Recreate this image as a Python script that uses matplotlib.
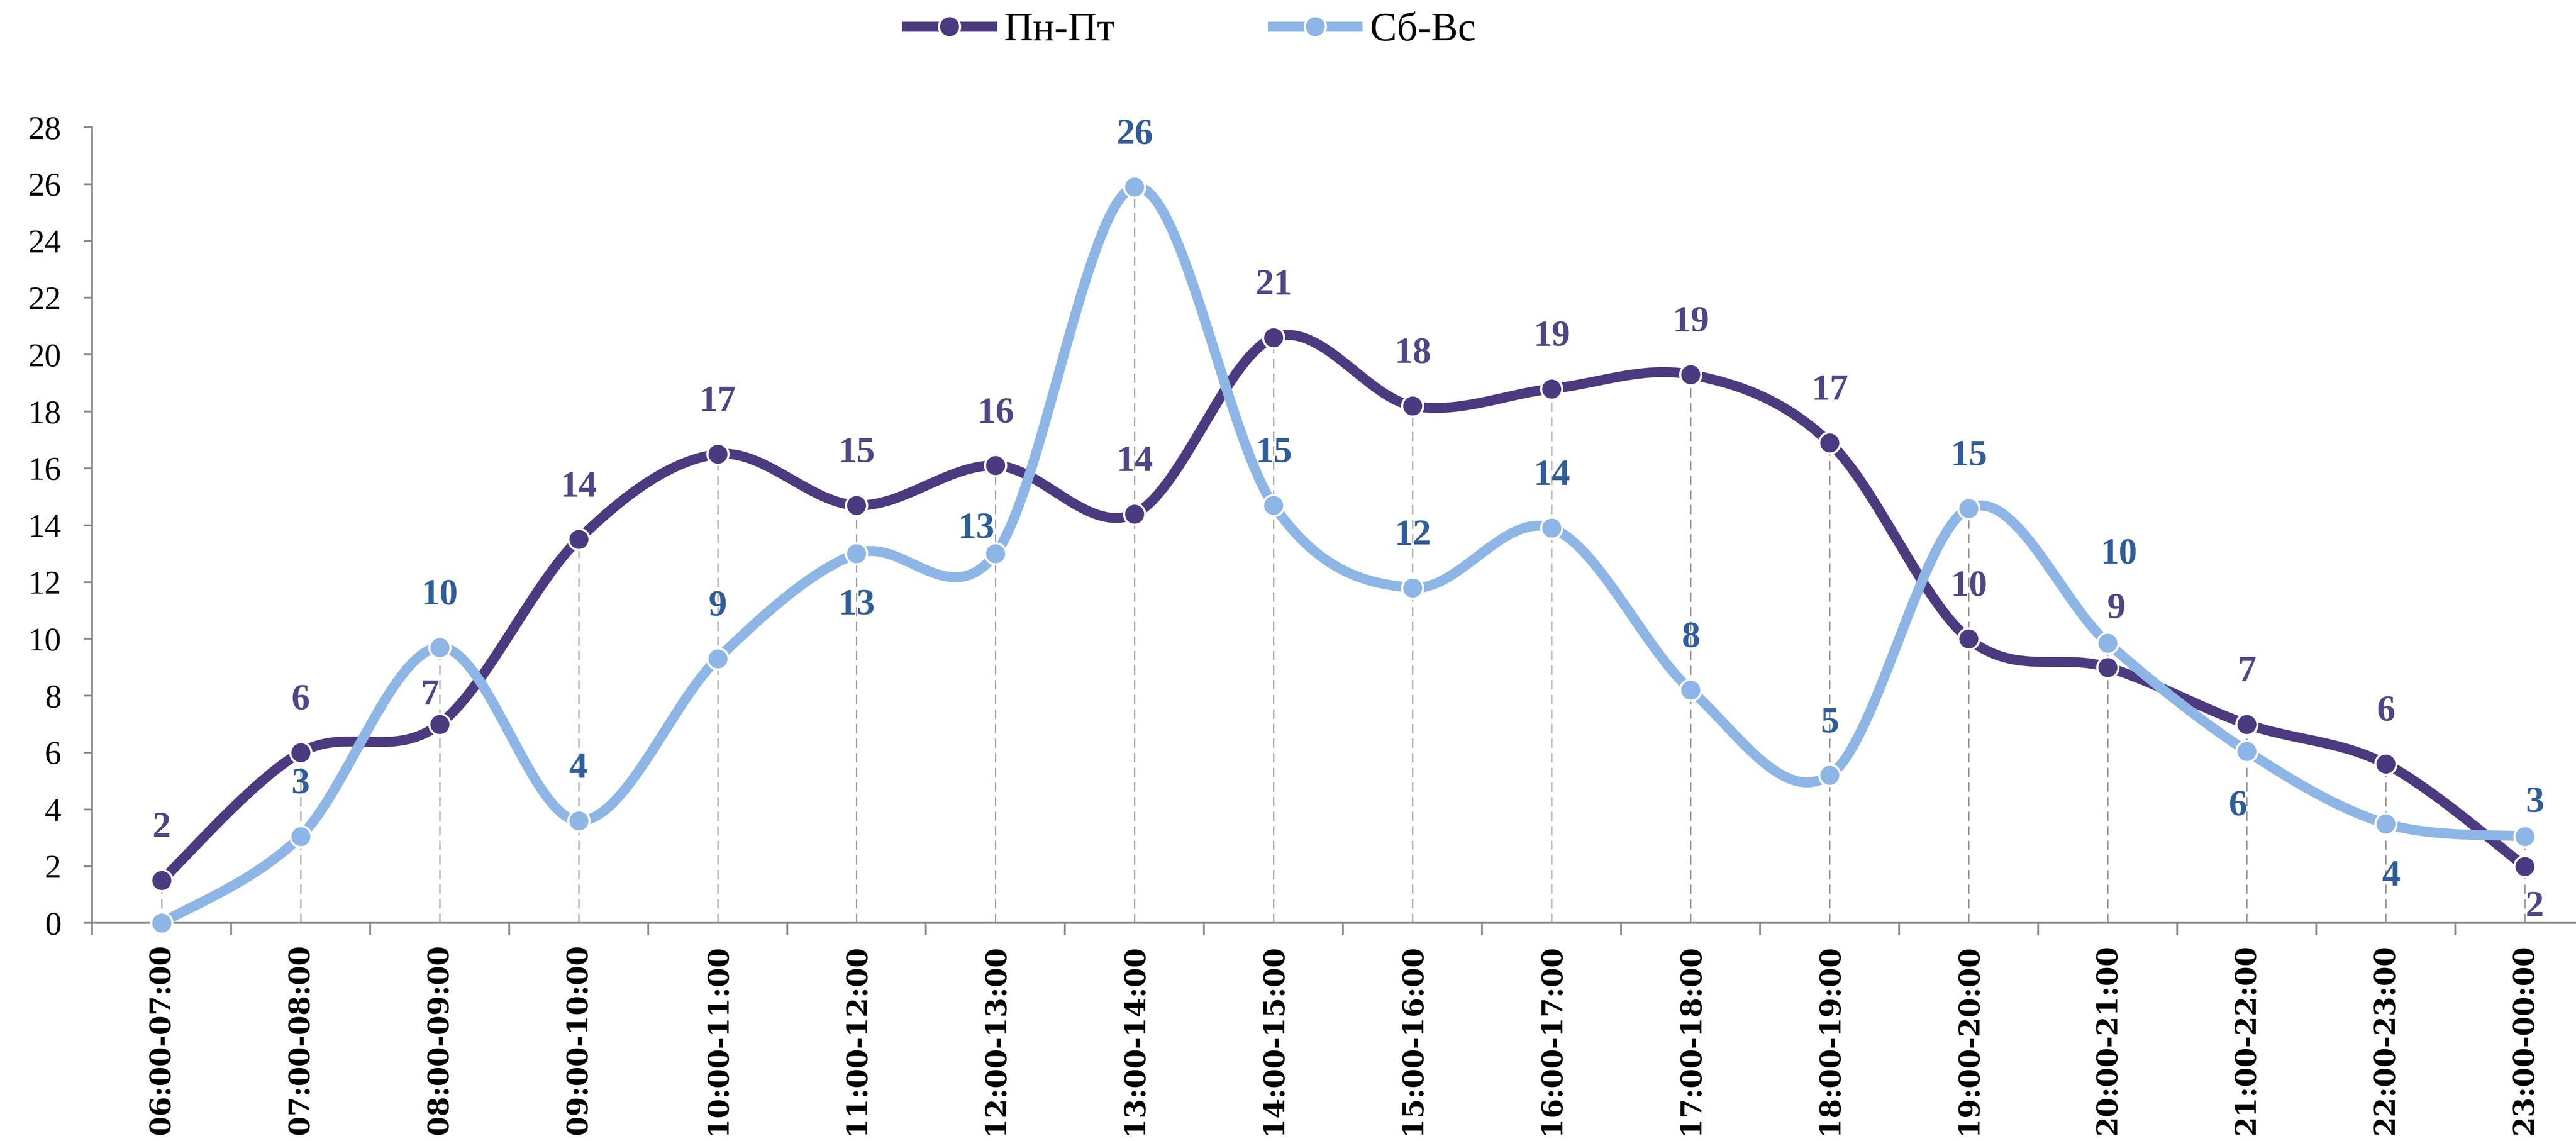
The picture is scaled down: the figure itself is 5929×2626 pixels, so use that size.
import numpy as np
import matplotlib.pyplot as plt
from matplotlib.lines import Line2D

hours = ['06:00-07:00', '07:00-08:00', '08:00-09:00', '09:00-10:00', '10:00-11:00',
         '11:00-12:00', '12:00-13:00', '13:00-14:00', '14:00-15:00', '15:00-16:00',
         '16:00-17:00', '17:00-18:00', '18:00-19:00', '19:00-20:00', '20:00-21:00',
         '21:00-22:00', '22:00-23:00', '23:00-00:00']
weekdays = [1.5, 6.0, 7.0, 13.5, 16.5, 14.7, 16.1, 14.4, 20.6, 18.2, 18.8, 19.3,
            16.9, 10.0, 9.0, 7.0, 5.6, 2.0]
weekend = [0.0, 3.05, 9.7, 3.6, 9.3, 13.0, 13.0, 25.9, 14.7, 11.8, 13.9, 8.2,
           5.2, 14.6, 9.85, 6.05, 3.5, 3.05]
weekday_labels = [2, 6, 7, 14, 17, 15, 16, 14, 21, 18, 19, 19, 17, 10, 9, 7, 6, 2]
weekend_labels = [None, 3, 10, 4, 9, 13, 13, 26, 15, 12, 14, 8, 5, 15, 10, 6, 4, 3]

c_wd = '#4b3a7f'
c_we = '#8db5e6'
c_wd_txt = '#524586'
c_we_txt = '#2f5d9a'


def smooth(xs, ys, steps=40):
    # excel-like smoothed line (catmull-rom as cubic bezier)
    pts = np.column_stack([xs, ys]).astype(float)
    n = len(pts)
    out = []
    t = np.linspace(0, 1, steps)[:, None]
    for i in range(n - 1):
        p0 = pts[i - 1] if i > 0 else pts[i]
        p1, p2 = pts[i], pts[i + 1]
        p3 = pts[i + 2] if i + 2 < n else pts[i + 1]
        c1 = p1 + (p2 - p0) / 6
        c2 = p2 - (p3 - p1) / 6
        seg = (1 - t)**3 * p1 + 3 * (1 - t)**2 * t * c1 + 3 * (1 - t) * t**2 * c2 + t**3 * p2
        out.append(seg if i == 0 else seg[1:])
    return np.vstack(out)


x = np.arange(len(hours))

fig = plt.figure(figsize=(59.29, 26.26), dpi=100)
ax = fig.add_axes([0.0357, 0.191, 0.9714, 0.6974])

# drop lines
top = np.maximum(weekdays, weekend)
ax.vlines(x, 0, top, colors='#9a9a9a', linestyles=(0, (7, 4)), linewidth=2.2, zorder=1)

for vals, col in [(weekdays, c_wd), (weekend, c_we)]:
    cur = smooth(x, vals)
    ax.plot(cur[:, 0], cur[:, 1], color=col, linewidth=16.5, solid_capstyle='round', zorder=3, clip_on=False)
    ax.plot(x, vals, linestyle='none', marker='o', markersize=35, markerfacecolor=col,
            markeredgecolor='white', markeredgewidth=3.5, zorder=4, clip_on=False)

# data labels
default_off = (0, 86)
wd_off = {2: (-16, 47), 14: (14, 96), 17: (16, -68)}
we_off = {5: (0, -86), 6: (-32, 41), 14: (18, 147), 15: (-15, -92),
          16: (9, -88), 17: (17, 55)}

for labels, vals, offs, col in [(weekday_labels, weekdays, wd_off, c_wd_txt),
                                (weekend_labels, weekend, we_off, c_we_txt)]:
    for i, (lab, v) in enumerate(zip(labels, vals)):
        if lab is None:
            continue
        ax.annotate(str(lab), (x[i], v), xytext=offs.get(i, default_off), textcoords='offset points',
                    ha='center', va='center', fontsize=61, fontweight='bold',
                    family='Liberation Serif', color=col, zorder=5, annotation_clip=False)

ax.set_xlim(-0.5, len(hours) - 0.5)
ax.set_ylim(0, 28)
ax.set_yticks(np.arange(0, 29, 2))
ax.set_xticks(x)
ax.set_xticklabels(hours, rotation=90, fontsize=47, fontweight='bold', family='DejaVu Serif')
ax.set_xticks(np.arange(-0.5, len(hours), 1), minor=True)
ax.tick_params(axis='x', which='major', length=0, pad=35)
ax.tick_params(axis='x', which='minor', length=20, width=3, color='#888888', direction='out')
ax.tick_params(axis='y', length=14, width=3, color='#888888', pad=37, labelsize=55)
for lab in ax.get_yticklabels():
    lab.set_family('Liberation Serif')

for s in ['top', 'right']:
    ax.spines[s].set_visible(False)
for s in ['left', 'bottom']:
    ax.spines[s].set_color('#888888')
    ax.spines[s].set_linewidth(3)

handles = [Line2D([], [], color=c_wd, linewidth=16.5, marker='o', markersize=35,
                  markeredgecolor='white', markeredgewidth=3.5),
           Line2D([], [], color=c_we, linewidth=16.5, marker='o', markersize=35,
                  markeredgecolor='white', markeredgewidth=3.5)]
fig.legend(handles, ['Пн-Пт', 'Сб-Вс'], loc='center', bbox_to_anchor=(0.4625, 0.973), ncol=2,
           frameon=False, prop={'family': 'Liberation Serif', 'size': 67},
           handlelength=2.1, handletextpad=0.3, columnspacing=3.9)

fig.savefig('out.png', dpi=100)
